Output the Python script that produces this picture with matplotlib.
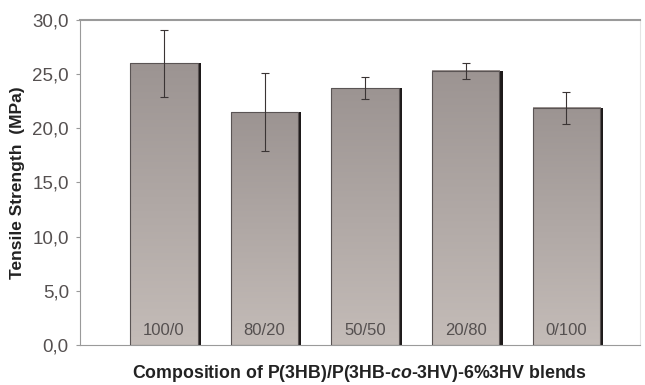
import numpy as np
import matplotlib
matplotlib.use("Agg")
import matplotlib.pyplot as plt
import matplotlib.colors as mcolors

plt.rcParams["font.family"] = ["Liberation Sans", "DejaVu Sans"]
plt.rcParams["mathtext.fontset"] = "custom"
plt.rcParams["mathtext.rm"] = "Liberation Sans:bold"
plt.rcParams["mathtext.it"] = "Liberation Sans:italic:bold"

# data
blends = ["100/0", "80/20", "50/50", "20/80", "0/100"]
strength = [26.0, 21.5, 23.7, 25.3, 21.9]
err = [3.1, 3.6, 1.0, 0.7, 1.5]
yticks = [0, 5, 10, 15, 20, 25, 30]

fig = plt.figure(figsize=(6.45, 3.85), dpi=100)
ax = fig.add_axes([0.124, 0.104, 0.868, 0.844])

grad = mcolors.LinearSegmentedColormap.from_list("g", ["#c4bcb8", "#9c9492"])
gimg = np.linspace(0, 1, 256).reshape(-1, 1)

x = np.arange(len(blends))
w = 0.67
for xi, h, e, lab in zip(x, strength, err, blends):
    # shadow on the right side
    ax.bar(xi + 0.03, h, width=w, color="#1e1a1a", zorder=1)
    ax.imshow(gimg, cmap=grad, origin="lower", aspect="auto",
              extent=(xi - w / 2, xi + w / 2, 0, h), zorder=2)
    ax.bar(xi, h, width=w, facecolor="none", edgecolor="#5a5454", linewidth=0.8, zorder=3)
    ax.errorbar(xi, h, yerr=e, fmt="none", ecolor="#3a3434", elinewidth=0.8,
                capsize=3, capthick=0.8, zorder=4)
    ax.text(xi, 1.3, lab, ha="center", va="center", fontsize=12, color="#555050", zorder=5)

ax.set_xlim(-0.835, 4.73)
ax.set_ylim(0, 30)
ax.set_yticks(yticks)
ax.set_yticklabels([f"{v:.1f}".replace(".", ",") for v in yticks], fontsize=13.5, color="#555050")
ax.set_xticks([])
ax.tick_params(axis="y", length=3, color="#999999", pad=5)

for s in ["left", "bottom", "top"]:
    ax.spines[s].set_color("#9a9a9a")
ax.spines["top"].set_linewidth(1.5)
ax.spines["right"].set_color("#e4e4e4")

ax.set_ylabel("Tensile Strength  (MPa)", fontsize=12.5, fontweight="bold", color="#222222", labelpad=5)
ax.set_xlabel("Composition of P(3HB)/P(3HB-$\\it{co}$-3HV)-6%3HV blends", fontsize=12.8,
              fontweight="bold", color="#222222", labelpad=13)

fig.savefig("out.png", dpi=100)
